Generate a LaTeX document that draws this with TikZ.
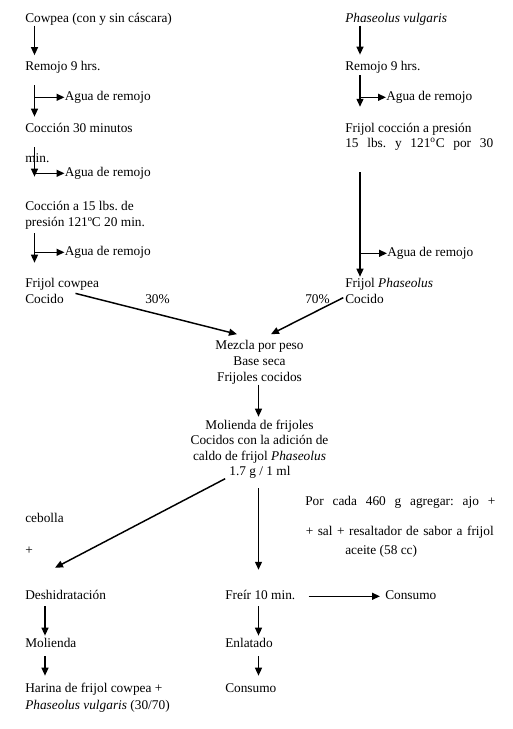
\documentclass[tikz,border=0pt]{standalone}
\usepackage{fontspec}
\setmainfont{Liberation Serif}
\usetikzlibrary{arrows.meta}
\frenchspacing
\begin{document}
\begin{tikzpicture}[x=0.75pt,y=-0.75pt,
  t/.style={anchor=base west,inner sep=0pt,text height=7pt,text depth=2.2pt,font=\fontsize{10pt}{12pt}\selectfont\frenchspacing},
  tc/.style={t,anchor=base},
  ar/.style={-{Triangle[length=6pt,width=5.2pt]},line width=1.1pt},
  ln/.style={line width=1.1pt}]
\useasboundingbox (0,0) rectangle (513,729);
\coordinate (lx) at (34.5,0);
\coordinate (rx) at (360,0);
\coordinate (bx) at (45,0);
\coordinate (mx) at (258.5,0);
% left column
\node[t] (cow) at (25,22.5) {Cowpea (con y sin cáscara)};
\node[t] (rem1) at (25,70.5) {Remojo 9 hrs.};
\node[t] (agua1) at (64.5,100.5) {Agua de remojo};
\node[t] (coc1) at (25,132) {Cocción 30 minutos};
\node[t] (min) at (25,162.5) {min.};
\node[t] (agua2) at (64.5,176.5) {Agua de remojo};
\node[t] (coc2a) at (25,210) {Cocción a 15 lbs. de};
\node[t] (coc2b) at (25,226) {presión 121ºC 20 min.};
\node[t] (agua3) at (64.5,255.5) {Agua de remojo};
\node[t] (fcowa) at (25,287) {Frijol cowpea};
\node[t] (fcowb) at (25,303) {Cocido};
\node[t] (p30) at (145,303) {30\%};
% right column
\node[t] (phas) at (345,22.5) {\textit{Phaseolus vulgaris}};
\node[t] (rem2) at (345,70) {Remojo 9 hrs.};
\node[t] (agua4) at (386,100.5) {Agua de remojo};
\node[t] (fcoca) at (345,132.5) {Frijol cocción a presión};
\node[t] (fcocb) at (345,147.5) {\makebox[111pt][s]{15 lbs. y 121\textsuperscript{o}C por 30}};
\node[t] (agua5) at (387,256.5) {Agua de remojo};
\node[t] (fphaa) at (345,287) {Frijol \textit{Phaseolus}};
\node[t] (fphab) at (345,303) {Cocido};
\node[t] (p70) at (305,303) {70\%};
% centre
\node[tc] (mez1) at (259.5,349.5) {Mezcla por peso};
\node[tc] (mez2) at (259.5,365.5) {Base seca};
\node[tc] (mez3) at (259.5,381.5) {Frijoles cocidos};
\node[tc] (mol1) at (259.5,429) {Molienda de frijoles};
\node[tc] (mol2) at (259.5,444.5) {Cocidos con la adición de};
\node[tc] (mol3) at (259.5,460) {caldo de frijol \textit{Phaseolus}};
\node[tc] (mol4) at (260,475.5) {1.7 g / 1 ml};
\node[t] (por1) at (305,505.5) {\makebox[142.5pt][s]{Por cada 460 g agregar: ajo +}};
\node[t] (por2) at (305.5,535.5) {\makebox[141pt][s]{+ sal + resaltador de sabor a frijol}};
\node[t] (por3) at (345,554) {aceite (58 cc)};
\node[t] (ceb) at (25,522) {cebolla};
\node[t] (plus) at (25,554) {+};
% bottom
\node[t] (desh) at (25,599.5) {Deshidratación};
\node[t] (frei) at (225,599.5) {Freír 10 min.};
\node[t] (cons1) at (385,599.5) {Consumo};
\node[t] (moli) at (25,647) {Molienda};
\node[t] (enl) at (225,647) {Enlatado};
\node[t] (har1) at (25,692.5) {Harina de frijol cowpea +};
\node[t] (har2) at (25,709) {\textit{Phaseolus vulgaris} (30/70)};
\node[t] (cons2) at (225,692.5) {Consumo};
% connectors left
\draw[ar,shorten >=4.3pt] (cow.south -| lx) -- (rem1.north -| lx);
\draw[ar,shorten <=8.7pt,shorten >=4.3pt] (rem1.south -| lx) -- (coc1.north -| lx);
\draw[ar] (agua1.west -| lx) -- (agua1.west);
\draw[ar,shorten <=9.1pt,shorten >=17.8pt] (coc1.south -| lx) -- (coc2a.north -| lx);
\draw[ar] (agua2.west -| lx) -- (agua2.west);
\draw[ar,shorten <=3.1pt,shorten >=11pt] (coc2b.south -| lx) -- (fcowa.north -| lx);
\draw[ar] (agua3.west -| lx) -- (agua3.west);
% connectors right
\draw[ar,shorten >=4.3pt] (phas.south -| rx) -- (rem2.north -| rx);
\draw[ar,shorten <=1.6pt,shorten >=12.1pt] (rem2.south -| rx) -- (fcoca.north -| rx);
\draw[ar] (agua4.west -| rx) -- (agua4.west);
\draw[ar,shorten <=16.2pt,shorten >=0.5pt] (fcocb.south -| rx) -- (fphaa.north -| rx);
\draw[ar] (agua5.west -| rx) -- (agua5.west);
% to mixing
\draw[ar] ([xshift=8.6pt]fcowb.north east) -- ([xshift=-16.9pt,yshift=4.3pt]mez1.north);
\draw[ar] ([xshift=-1.3pt,yshift=1.6pt]fphab.west) -- ([xshift=8.6pt,yshift=4.3pt]mez1.north);
\draw[ar,shorten >=2pt] (mez3.south -| mx) -- (mol1.north -| mx);
% from milling
\draw[ar] ([xshift=-3pt]mol4.south west) -- ([xshift=22.5pt,yshift=16.6pt]desh.north west);
\draw[ar,shorten <=7.2pt,shorten >=15.1pt] (mol4.south -| mx) -- (frei.north -| mx);
\draw[ar,shorten <=9.75pt,shorten >=3.75pt] (frei.east) -- (cons1.west);
% bottom chains
\draw[ar,shorten <=2.7pt,shorten >=1.3pt] (desh.south -| bx) -- (moli.north -| bx);
\draw[ar,shorten <=4.6pt,shorten >=5.4pt] (moli.south -| bx) -- (har1.north -| bx);
\draw[ar,shorten <=2.7pt,shorten >=1.3pt] (frei.south -| mx) -- (enl.north -| mx);
\draw[ar,shorten <=4.6pt,shorten >=5.4pt] (enl.south -| mx) -- (cons2.north -| mx);
\end{tikzpicture}
\end{document}
